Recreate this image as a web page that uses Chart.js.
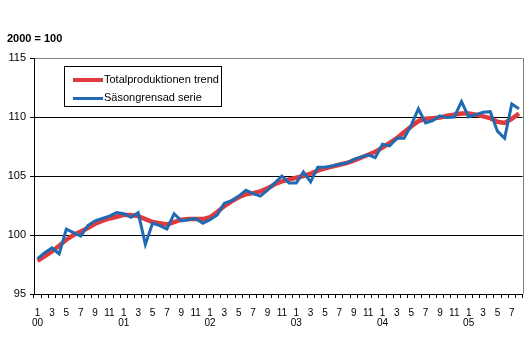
<!DOCTYPE html>
<html>
<head>
<meta charset="utf-8">
<script src="https://cdn.jsdelivr.net/npm/chart.js@4/dist/chart.umd.min.js"></script>
<style>
  html, body { margin: 0; padding: 0; background: #fff; }
  #wrap { position: relative; width: 529px; height: 338px; font-family: "Liberation Sans", Arial, sans-serif; }
  #base { position: absolute; left: 7px; top: 32px; font-size: 11px; font-weight: bold; color: #000; }
  #key { position: absolute; left: 64px; top: 66px; width: 156px; height: 39px; border: 1px solid #000; background: #fff; font-size: 11px; color: #000; }
  .row { position: absolute; left: 8px; height: 14px; line-height: 14px; white-space: nowrap; }
  .swatch { display: inline-block; width: 30px; vertical-align: middle; margin-right: 1px; }
</style>
</head>
<body>
<div id="wrap">
  <canvas id="chart" width="529" height="338"></canvas>
  <div id="base">2000 = 100</div>
  <div id="key"></div>
</div>
<script>
// Index, 2000 = 100, monthly Jan 2000 - Aug 2005
const yearLabels = ['00', '01', '02', '03', '04', '05'];
const monthLabels = ['1', '', '3', '', '5', '', '7', '', '9', '', '11', ''];

const trend = [
  97.8, 98.2, 98.6, 99.1, 99.6, 100.0, 100.3, 100.6, 100.95, 101.2, 101.4, 101.55,
  101.7, 101.7, 101.6, 101.35, 101.1, 101.0, 100.9, 101.1, 101.3, 101.35, 101.35, 101.35,
  101.5, 101.95, 102.45, 102.85, 103.2, 103.45, 103.55, 103.7, 103.95, 104.3, 104.55, 104.7,
  104.85, 105.0, 105.2, 105.45, 105.65, 105.8, 105.95, 106.1, 106.3, 106.55, 106.8, 107.05,
  107.4, 107.8, 108.2, 108.7, 109.2, 109.65, 109.85, 109.9, 109.95, 110.1, 110.2, 110.3,
  110.3, 110.2, 110.05, 109.9, 109.6, 109.5, 109.85, 110.3
];

const adjusted = [
  98.0, 98.5, 98.9, 98.4, 100.5, 100.2, 99.9, 100.8, 101.2, 101.4, 101.6, 101.9,
  101.8, 101.5, 101.9, 99.2, 101.0, 100.8, 100.5, 101.8, 101.2, 101.3, 101.4, 101.0,
  101.3, 101.7, 102.7, 102.9, 103.3, 103.8, 103.5, 103.3, 103.8, 104.4, 105.0, 104.4,
  104.4, 105.35, 104.5, 105.75, 105.75, 105.85, 106.0, 106.1, 106.4, 106.6, 106.8, 106.55,
  107.7, 107.55, 108.2, 108.2, 109.3, 110.7, 109.5, 109.7, 110.1, 109.95, 110.0, 111.3,
  110.0, 110.2, 110.4, 110.45, 108.8, 108.2, 111.1, 110.7
];

const seriesNames = ['Totalproduktionen trend', 'Säsongrensad serie'];
const seriesColors = ['#e03a3e', '#1f6bb3'];

// one category per month
const categories = trend.map((_, i) => (2000 + Math.floor(i / 12)) + '-' + (i % 12 + 1));

// grey line along the right edge of the plot
const rightEdge = {
  id: 'rightEdge',
  beforeDatasetsDraw(chart) {
    const { ctx, chartArea: a } = chart;
    ctx.save();
    ctx.strokeStyle = '#808080';
    ctx.lineWidth = 1;
    ctx.beginPath();
    ctx.moveTo(Math.round(a.right) + 0.5, a.top);
    ctx.lineTo(Math.round(a.right) + 0.5, a.bottom);
    ctx.stroke();
    ctx.restore();
  }
};

Chart.defaults.font.family = '"Liberation Sans", Arial, sans-serif';
Chart.defaults.color = '#000';

new Chart(document.getElementById('chart'), {
  type: 'line',
  data: {
    labels: categories,
    datasets: [
      {
        label: seriesNames[0],
        data: trend,
        borderColor: seriesColors[0],
        borderWidth: 4.5,
        pointRadius: 0,
        tension: 0,
        order: 2
      },
      {
        label: seriesNames[1],
        data: adjusted,
        borderColor: seriesColors[1],
        borderWidth: 3,
        pointRadius: 0,
        tension: 0,
        order: 1
      }
    ]
  },
  options: {
    responsive: false,
    animation: false,
    layout: { padding: { left: 0, right: 5, top: 58, bottom: 0 } },
    plugins: {
      legend: { display: false },
      tooltip: { enabled: false }
    },
    scales: {
      x: {
        offset: true,
        afterFit: (s) => { s.height = 44; },
        border: { color: '#000', width: 1 },
        grid: { offset: true, drawOnChartArea: false, drawTicks: true, tickLength: 4, color: '#000' },
        ticks: {
          autoSkip: false,
          maxRotation: 0,
          minRotation: 0,
          padding: 10,
          font: { size: 10, lineHeight: 1.0 },
          callback: (v, i) => {
            const m = monthLabels[i % 12];
            if (i % 12 === 0) return [m, yearLabels[Math.floor(i / 12)]];
            return m;
          }
        }
      },
      y: {
        min: 95,
        max: 115,
        afterFit: (s) => { s.width = 34; },
        border: { color: '#000', width: 1 },
        grid: {
          color: (c) => (c.tick && c.tick.value === 115 ? '#808080' : '#000'),
          tickColor: '#000',
          tickLength: 4,
          lineWidth: 1
        },
        ticks: { stepSize: 5, padding: 4, font: { size: 11 } }
      }
    }
  },
  plugins: [rightEdge]
});

// legend box inside the plot
const key = document.getElementById('key');
seriesNames.forEach((name, i) => {
  const row = document.createElement('div');
  row.className = 'row';
  row.style.top = (i === 0 ? 5 : 23) + 'px';
  const sw = document.createElement('span');
  sw.className = 'swatch';
  sw.style.height = (i === 0 ? 4 : 3) + 'px';
  sw.style.background = seriesColors[i];
  row.appendChild(sw);
  row.appendChild(document.createTextNode(name));
  key.appendChild(row);
});
</script>
</body>
</html>
